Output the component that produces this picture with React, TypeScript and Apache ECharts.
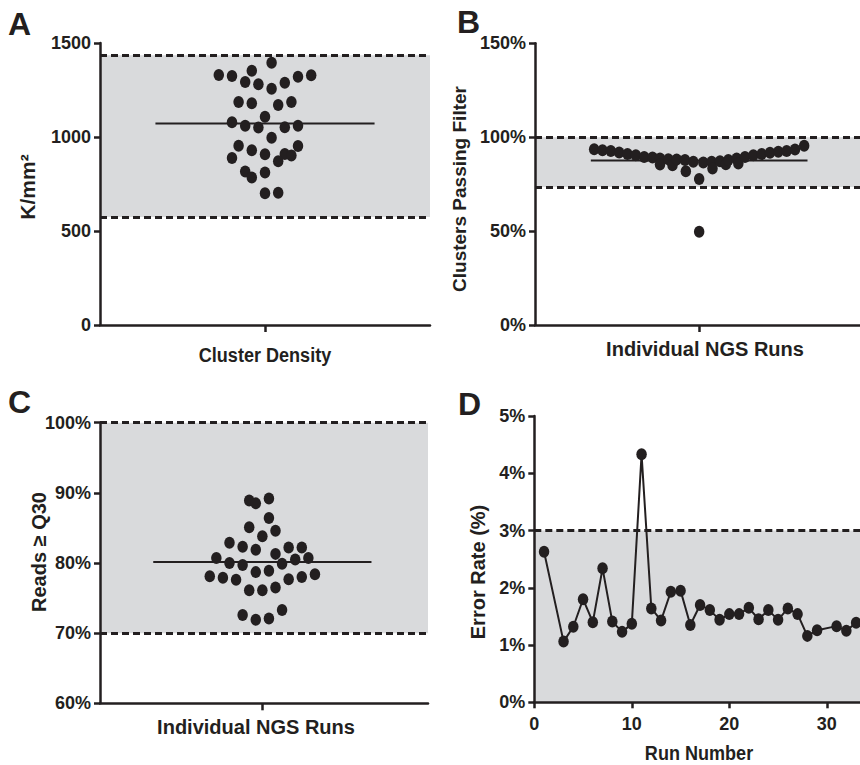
import React, { useEffect, useRef } from "react";
import * as echarts from "echarts";

// ---------- DATA ----------
// A: Cluster density (K/mm²) — beeswarm offsets are the horizontal spread slots
const densityValues = [1395, 1330, 1324, 1353, 1321, 1328, 1293, 1280, 1257, 1289, 1186, 1179, 1170, 1186, 1108, 1078, 1060, 1050, 1052, 1060, 996, 954, 929, 908, 952, 888, 910, 901, 871, 816, 784, 811, 701, 704];
const densityOffsets = [1, -7, -5, -2, 5, 7, -3, -1, 1, 3, -4, -2, 2, 4, 0, -5, -3, -1, 3, 5, 1, -4, -2, 0, 5, -5, 3, 4, 2, -3, -2, 0, 0, 2];
const densityLimits = [575, 1435];
const densityTicks = [0, 1500, 500];

// B: Clusters passing filter (%)
const pfValues = [93.6, 93.1, 92.6, 91.8, 91.0, 90.4, 89.5, 89.2, 88.7, 85.5, 88.3, 85.1, 88.1, 87.8, 81.9, 86.9, 77.7, 86.5, 86.9, 83.3, 87.2, 85.6, 87.8, 88.7, 86.0, 89.5, 90.4, 91.0, 91.7, 92.2, 92.7, 93.4, 95.4, 49.6];
const pfOffsets = [-12.6, -11.6, -10.6, -9.6, -8.6, -7.6, -6.6, -5.6, -4.7, -4.7, -3.7, -3.2, -2.7, -1.7, -1.6, -0.7, 0, 0.5, 1.5, 1.6, 2.5, 3.2, 3.5, 4.5, 4.7, 5.5, 6.5, 7.5, 8.5, 9.5, 10.5, 11.5, 12.6, 0];
const pfLimits = [73.5, 100];
const pfTicks = [0, 150, 50];

// C: Reads >= Q30 (%)
const q30Values = [88.9, 88.5, 89.2, 86.4, 85.1, 84.6, 83.8, 82.9, 82.3, 81.9, 82.2, 82.2, 81.3, 80.7, 80.0, 79.7, 79.9, 80.5, 80.7, 78.1, 77.9, 77.6, 78.7, 78.9, 77.7, 78.0, 78.4, 76.1, 76.1, 76.5, 72.6, 71.9, 72.1, 73.3];
const q30Offsets = [-2, -1, 1, 1, -2, 2, 0, -5, -3, -1, 4, 6, 2, -7, -5, -3, 3, 5, 7, -8, -6, -4, -1, 1, 4, 6, 8, -2, 0, 2, -3, -1, 1, 3];
const q30Limits = [70, 100];
const q30Ticks = [60, 100, 10];

// D: Error rate (%) by run number
const runNumbers = [1, 3, 4, 5, 6, 7, 8, 9, 10, 11, 12, 13, 14, 15, 16, 17, 18, 19, 20, 21, 22, 23, 24, 25, 26, 27, 28, 29, 31, 32, 33];
const errorRates = [2.63, 1.06, 1.32, 1.8, 1.4, 2.34, 1.41, 1.23, 1.37, 4.33, 1.64, 1.43, 1.93, 1.95, 1.35, 1.7, 1.61, 1.44, 1.54, 1.54, 1.65, 1.45, 1.61, 1.44, 1.64, 1.54, 1.16, 1.26, 1.33, 1.25, 1.39];
const errorLimit = 3;
const errorTicks = [0, 5, 1];
const runTicks = [0, 10, 20, 30];

// ---------- STYLE ----------
const INK = "#231f20";
const BAND = "#d9dadc";
const WIDE = '"Liberation Sans", Arial, sans-serif';
const DOT = "path://M0,11.5 A10,11.5 0 1 1 20,11.5 A10,11.5 0 1 1 0,11.5 Z";
const DOT_SIZE = [10.5, 12];

const mean = (a: number[]) => a.reduce((s, v) => s + v, 0) / a.length;

const tickLabel = { fontFamily: WIDE, fontWeight: "bold" as const, fontSize: 18, color: INK };
const lineSt = { color: INK, width: 2.5 };

function yAxis(gridIndex: number, t: number[], pct: boolean) {
  return {
    gridIndex,
    type: "value",
    min: t[0],
    max: t[1],
    interval: t[2],
    z: 10,
    axisLine: { show: true, onZero: false, lineStyle: lineSt },
    axisTick: { show: true, length: 6, lineStyle: lineSt },
    axisLabel: { ...tickLabel, margin: 9, formatter: (v: number) => (pct ? `${v}%` : `${v}`) },
    splitLine: { show: false },
  };
}

function swarmX(gridIndex: number, min: number, max: number) {
  return {
    gridIndex,
    type: "value",
    min,
    max,
    z: 10,
    axisLine: { show: true, onZero: false, lineStyle: lineSt },
    axisTick: { show: true, length: 7, customValues: [0], lineStyle: lineSt },
    axisLabel: { show: false },
    splitLine: { show: false },
  };
}

function bandMarks(lo: number | null, hi: number) {
  const area = lo === null ? [[{ yAxis: 0 }, { yAxis: hi }]] : [[{ yAxis: lo }, { yAxis: hi }]];
  const lines = lo === null ? [{ yAxis: hi }] : [{ yAxis: lo }, { yAxis: hi }];
  return {
    markArea: { silent: true, itemStyle: { color: BAND }, data: area },
    markLine: {
      silent: true,
      symbol: ["none", "none"],
      label: { show: false },
      lineStyle: { color: INK, width: 3, type: [7, 4] },
      data: lines,
    },
  };
}

function swarmSeries(idx: number, offsets: number[], values: number[], limits: number[], half: number) {
  const m = mean(values);
  return [
    {
      type: "line",
      xAxisIndex: idx,
      yAxisIndex: idx,
      data: [[-half, m], [half, m]],
      symbol: "none",
      lineStyle: { color: INK, width: 2 },
      z: 2,
      ...bandMarks(limits[0], limits[1]),
    },
    {
      type: "scatter",
      xAxisIndex: idx,
      yAxisIndex: idx,
      data: offsets.map((o, i) => [o, values[i]]),
      symbol: DOT,
      symbolSize: DOT_SIZE,
      itemStyle: { color: INK, opacity: 1 },
      z: 3,
    },
  ];
}

function txt(text: string, x: number, y: number, font: string, rotate = false, align = "center", scaleX = 1) {
  return {
    type: "text",
    x,
    y,
    scaleX,
    rotation: rotate ? Math.PI / 2 : 0,
    silent: true,
    style: { text, font, fill: INK, align, verticalAlign: "middle" },
  };
}

export default function App() {
  const ref = useRef<HTMLDivElement>(null);
  useEffect(() => {
    if (!ref.current) return;
    const chart = echarts.init(ref.current, null, { renderer: "svg" });
    const letter = `bold 32px ${WIDE}`;
    chart.setOption({
      animation: false,
      backgroundColor: "#ffffff",
      grid: [
        { left: 100, top: 43, width: 330, height: 282 },
        { left: 535, top: 43.3, width: 325, height: 281.7 },
        { left: 100, top: 422.7, width: 328, height: 280.6 },
        { left: 534.3, top: 416, width: 325.7, height: 286.3 },
      ],
      xAxis: [
        swarmX(0, -25, 25),
        swarmX(1, -19.7, 19.3),
        swarmX(2, -24.7, 25.2),
        {
          gridIndex: 3,
          type: "value",
          min: 0,
          max: 33.4,
          z: 10,
          axisLine: { show: true, onZero: false, lineStyle: lineSt },
          axisTick: { show: true, length: 6, customValues: runTicks, lineStyle: lineSt },
          axisLabel: { ...tickLabel, margin: 13, customValues: runTicks },
          splitLine: { show: false },
        },
      ],
      yAxis: [
        yAxis(0, densityTicks, false),
        yAxis(1, pfTicks, true),
        yAxis(2, q30Ticks, true),
        yAxis(3, errorTicks, true),
      ],
      series: [
        ...swarmSeries(0, densityOffsets, densityValues, densityLimits, 16.6),
        ...swarmSeries(1, pfOffsets, pfValues, pfLimits, 13),
        ...swarmSeries(2, q30Offsets, q30Values, q30Limits, 16.6),
        {
          type: "line",
          xAxisIndex: 3,
          yAxisIndex: 3,
          data: runNumbers.map((r, i) => [r, errorRates[i]]),
          symbol: DOT,
          symbolSize: DOT_SIZE,
          showSymbol: true,
          lineStyle: { color: INK, width: 2 },
          itemStyle: { color: INK, opacity: 1 },
          z: 3,
          ...bandMarks(null, errorLimit),
        },
      ],
      graphic: [
        txt("A", 8, 23.5, letter, false, "left"),
        txt("B", 457, 21.5, letter, false, "left"),
        txt("C", 8, 401.5, letter, false, "left"),
        txt("D", 458, 403.5, letter, false, "left"),
        txt("K/mm²", 27, 187, `bold 21px ${WIDE}`, true),
        txt("Cluster Density", 265, 354.5, `bold 21px ${WIDE}`, false, "center", 0.86),
        txt("Clusters Passing Filter", 459, 189, `bold 19px ${WIDE}`, true),
        txt("Individual NGS Runs", 705, 349, `bold 20px ${WIDE}`),
        txt("Reads ≥ Q30", 39, 552, `bold 20px ${WIDE}`, true),
        txt("Individual NGS Runs", 256, 726.5, `bold 20px ${WIDE}`),
        txt("Error Rate (%)", 477.5, 572, `bold 20px ${WIDE}`, true),
        txt("Run Number", 699, 752.5, `bold 21px ${WIDE}`, false, "center", 0.86),
      ],
    });
    return () => chart.dispose();
  }, []);
  return (
    <div
      ref={ref}
      style={{ position: "absolute", left: 0, top: 0, width: 860, height: 765, background: "#fff" }}
    />
  );
}
